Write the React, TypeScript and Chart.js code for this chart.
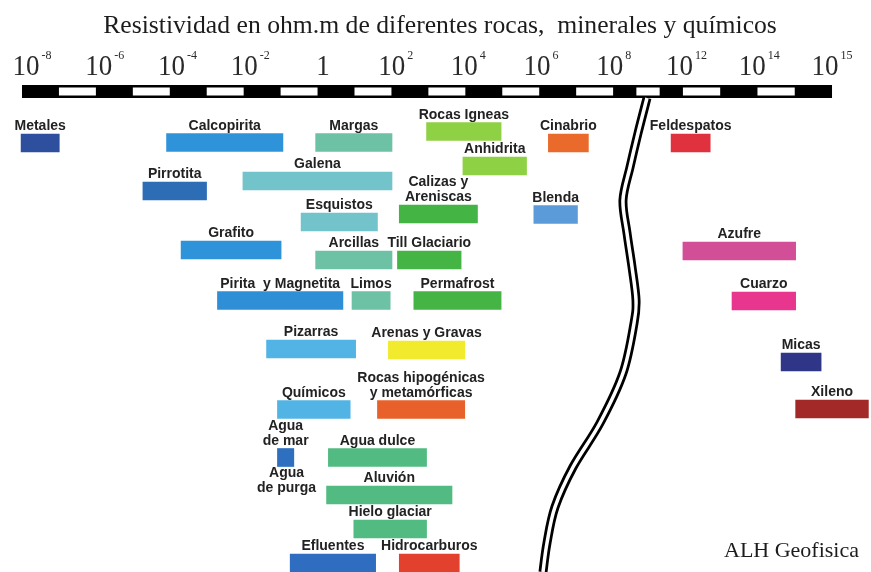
import React, { useEffect, useRef } from 'react';
import { Chart, registerables } from 'chart.js';

Chart.register(...registerables);

const TITLE = 'Resistividad en ohm.m de diferentes rocas,  minerales y químicos';
const CREDIT = 'ALH Geofisica';

// Labelled exponents of the resistivity axis (ohm.m = 10^e)
const tickExponents = [-8, -6, -4, -2, 0, 2, 4, 6, 8, 12, 14, 15];

const materials = [
  'Metales', 'Calcopirita', 'Margas', 'Rocas Igneas', 'Cinabrio', 'Feldespatos',
  'Anhidrita', 'Galena', 'Pirrotita', 'Calizas y\nAreniscas', 'Blenda', 'Esquistos',
  'Grafito', 'Azufre', 'Arcillas', 'Till Glaciario', 'Pirita  y Magnetita', 'Limos',
  'Permafrost', 'Cuarzo', 'Pizarras', 'Arenas y Gravas', 'Micas', 'Químicos',
  'Rocas hipogénicas\ny metamórficas', 'Xileno', 'Agua\nde mar', 'Agua dulce', 'Aluvión',
  'Agua\nde purga', 'Hielo glaciar', 'Efluentes', 'Hidrocarburos',
];

// log10 of the minimum resistivity
const lowExp = [
  -8.3, -4.3, -0.2, 2.85, 6.2, 11.15, 3.85, -2.2, -4.95, 2.1, 5.8, -0.6,
  -3.9, 11.8, -0.2, 2.05, -2.9, 0.8, 2.5, 13.25, -1.55, 1.8, 14.3, -1.25,
  1.5, 14.5, -1.25, 0.15, 0.1, -1, 0.85, -0.9, 2.1,
];

// log10 of the maximum resistivity
const highExp = [
  -7.25, -1.1, 1.9, 4.9, 7.3, 12.65, 5.6, 1.9, -3.2, 4.25, 7.0, 1.5,
  -1.15, 14.5, 1.9, 3.8, 0.55, 1.85, 4.9, 14.5, 0.9, 3.9, 14.85, 0.75,
  3.9, 15.5, -0.8, 2.85, 3.55, -1, 2.85, 1.45, 3.75,
];

// vertical row of each bar (0 = top of the plot)
const rows = [
  4.5, 4.45, 4.45, 3.35, 4.5, 4.5, 6.8, 8.3, 9.3, 11.6, 11.65, 12.4,
  15.2, 15.3, 16.2, 16.2, 20.25, 20.25, 20.25, 20.3, 25.1, 25.2, 26.4, 31.15,
  31.15, 31.1, 35.95, 35.95, 39.7, 40.7, 43.1, 46.5, 46.5,
];

const colors = [
  '#2d4f9e', '#2f93d9', '#6dc2a5', '#8fd145', '#ea6a2c', '#e0313e',
  '#8fd145', '#72c3ca', '#2c6db5', '#44b444', '#5b9bd9', '#72c3ca',
  '#2f93d9', '#d24f98', '#6dc2a5', '#44b444', '#2f8fd6', '#6dc2a5',
  '#44b444', '#e8358d', '#52b4e4', '#f2ea2c', '#2f3587', '#52b4e4',
  '#e8602a', '#a32828', '#2e6fbf', '#52bb82', '#52bb82', 'rgba(0,0,0,0)',
  '#52bb82', '#2e6dbf', '#e2412e',
];

// axis break (double wavy line) path, in [axis position, row]
const breakPath = [
  [8.456, 0], [8.333, 3.5], [8.223, 6.9], [8.126, 10.2], [8.181, 13.5],
  [8.25, 16.9], [8.305, 20.2], [8.278, 22.5], [8.126, 27.5], [7.81, 32.5],
  [7.439, 36.9], [7.191, 40.9], [7.081, 44.5], [7.026, 47.4],
];

// exponent -> axis position (index of the labelled ticks, piecewise linear)
function toAxis(e: number): number {
  const t = tickExponents;
  if (e <= t[0]) return (e - t[0]) / (t[1] - t[0]);
  for (let k = 0; k < t.length - 1; k++) {
    if (e <= t[k + 1]) return k + (e - t[k]) / (t[k + 1] - t[k]);
  }
  const n = t.length - 1;
  return n + (e - t[n]) / (t[n] - t[n - 1]);
}

const SERIF = '"Liberation Serif", "Times New Roman", Times, serif';
const SANS = '"Liberation Sans", Arial, Helvetica, sans-serif';

const decorPlugin = {
  id: 'decor',
  beforeDraw(chart: any) {
    const { ctx, width, height } = chart;
    ctx.save();
    ctx.fillStyle = '#ffffff';
    ctx.fillRect(0, 0, width, height);
    ctx.restore();
  },
  afterDatasetsDraw(chart: any) {
    const { ctx } = chart;
    const xs = chart.scales.x;
    const ys = chart.scales.y;
    const px = (a: number) => xs.getPixelForValue(a);
    const py = (r: number) => ys.getPixelForValue(r);
    ctx.save();

    // Title
    ctx.fillStyle = '#1c1c1c';
    ctx.textBaseline = 'alphabetic';
    ctx.textAlign = 'center';
    ctx.font = `24px ${SERIF}`;
    const w24 = ctx.measureText(TITLE).width;
    const tSize = 24 * 674 / w24;
    ctx.font = `${tSize}px ${SERIF}`;
    ctx.fillText(TITLE, 440, 33);

    // Tick labels 10^n
    ctx.fillStyle = '#2a2a2a';
    tickExponents.forEach((e) => {
      const cx = px(toAxis(e));
      const main = e === 0 ? '1' : '10';
      const sup = e === 0 ? '' : String(e);
      ctx.font = `27px ${SERIF}`;
      const wm = ctx.measureText(main).width;
      ctx.font = `12px ${SERIF}`;
      const ws = sup ? ctx.measureText(sup).width + 2 : 0;
      const left = cx - (wm + ws) / 2;
      ctx.textAlign = 'left';
      ctx.save();
      ctx.translate(left, 75);
      ctx.scale(1, 1.12);
      ctx.font = `27px ${SERIF}`;
      ctx.fillText(main, 0, 0);
      ctx.restore();
      if (sup) {
        ctx.font = `12px ${SERIF}`;
        ctx.fillText(sup, left + wm + 2, 59);
      }
    });

    // Checkered scale bar
    const barTop = 85;
    const barBot = 98;
    const start = toAxis(-8.275);
    const brk = toAxis(7.98);
    const mid = toAxis(11.8);
    const end = toAxis(15);
    const edges: number[] = [];
    for (let k = 0; k <= 16; k++) edges.push(start + (k * (brk - start)) / 16);
    for (let k = 1; k <= 3; k++) edges.push(brk + (k * (mid - brk)) / 3);
    for (let k = 1; k <= 4; k++) edges.push(mid + (k * (end - mid)) / 4);
    ctx.fillStyle = '#000000';
    ctx.fillRect(px(start), barTop, px(end) - px(start), barBot - barTop);
    ctx.fillStyle = '#ffffff';
    for (let k = 0; k < edges.length - 1; k++) {
      if (k % 2 === 1) {
        const x0 = px(edges[k]);
        const x1 = px(edges[k + 1]);
        ctx.fillRect(x0, barTop + 2.5, x1 - x0, barBot - barTop - 5);
      }
    }

    // Axis break double line
    const pts = breakPath.map(([a, r]) => [px(a), py(r)]);
    const tracePath = () => {
      ctx.beginPath();
      ctx.moveTo(pts[0][0], pts[0][1]);
      for (let i = 0; i < pts.length - 1; i++) {
        const p0 = pts[Math.max(0, i - 1)];
        const p1 = pts[i];
        const p2 = pts[i + 1];
        const p3 = pts[Math.min(pts.length - 1, i + 2)];
        const c1x = p1[0] + (p2[0] - p0[0]) / 6;
        const c1y = p1[1] + (p2[1] - p0[1]) / 6;
        const c2x = p2[0] - (p3[0] - p1[0]) / 6;
        const c2y = p2[1] - (p3[1] - p1[1]) / 6;
        ctx.bezierCurveTo(c1x, c1y, c2x, c2y, p2[0], p2[1]);
      }
    };
    ctx.lineCap = 'butt';
    tracePath();
    ctx.strokeStyle = '#000000';
    ctx.lineWidth = 9;
    ctx.stroke();
    tracePath();
    ctx.strokeStyle = '#ffffff';
    ctx.lineWidth = 3.5;
    ctx.stroke();

    // Bar labels
    const meta = chart.getDatasetMeta(0);
    ctx.fillStyle = '#222222';
    ctx.textAlign = 'center';
    ctx.font = `bold 14px ${SANS}`;
    meta.data.forEach((el: any, i: number) => {
      const { x, y, base, height } = el.getProps(['x', 'y', 'base', 'height'], true);
      const cx = (x + base) / 2;
      const top = y - height / 2;
      const lines = materials[i].split('\n');
      lines.forEach((line, j) => {
        ctx.fillText(line, cx, top - 4 - (lines.length - 1 - j) * 15);
      });
    });

    // Credit
    ctx.fillStyle = '#1c1c1c';
    ctx.textAlign = 'right';
    ctx.font = `22px ${SERIF}`;
    ctx.fillText(CREDIT, 859, 557);

    ctx.restore();
  },
};

export default function App() {
  const ref = useRef<HTMLCanvasElement>(null);
  useEffect(() => {
    const canvas = ref.current;
    if (!canvas) return;
    const chart = new Chart(canvas, {
      type: 'bar',
      data: {
        datasets: [
          {
            label: 'Resistividad',
            data: materials.map((_, i) => ({
              x: [toAxis(lowExp[i]), toAxis(highExp[i])],
              y: rows[i],
            })) as any,
            backgroundColor: colors,
            borderWidth: 0,
            borderSkipped: false,
            barThickness: 18,
          } as any,
        ],
      },
      options: {
        indexAxis: 'y',
        responsive: false,
        animation: false,
        devicePixelRatio: 1,
        layout: { padding: { left: 20, right: 0, top: 98, bottom: 0 } },
        scales: {
          x: { type: 'linear', min: -0.165, max: 11.536, offset: false, display: false },
          y: { type: 'linear', min: 0, max: 47.4, reverse: true, offset: false, display: false },
        },
        plugins: {
          legend: { display: false },
          tooltip: { enabled: false },
          title: { display: false },
        },
      } as any,
      plugins: [decorPlugin],
    });
    return () => chart.destroy();
  }, []);
  return (
    <div style={{ position: 'absolute', left: 0, top: 0, width: 871, height: 572, background: '#fff' }}>
      <canvas ref={ref} width={871} height={572} style={{ display: 'block', width: 871, height: 572 }} />
    </div>
  );
}
